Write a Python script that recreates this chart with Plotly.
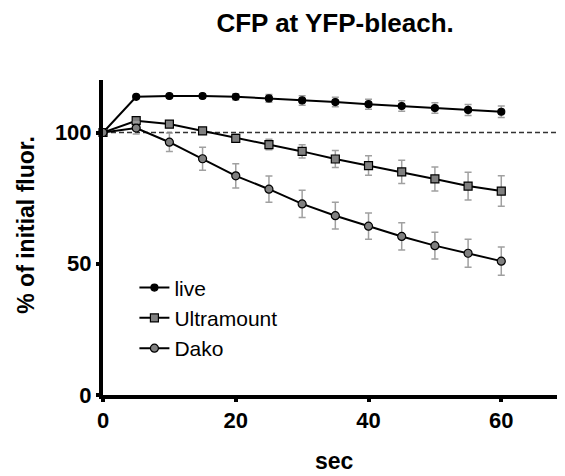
import plotly.graph_objects as go

# Données
temps = [0, 5, 10, 15, 20, 25, 30, 35, 40, 45, 50, 55, 60]

live = [100, 113.6, 113.9, 113.9, 113.6, 113.0, 112.2, 111.6, 110.8, 110.1, 109.3, 108.6, 107.9]
live_err = [0, 0.5, 0.6, 0.8, 1.2, 1.5, 1.8, 1.8, 1.9, 2.0, 2.0, 2.1, 2.2]

ultramount = [100, 104.5, 103.2, 100.6, 97.8, 95.4, 92.8, 89.9, 87.4, 85.0, 82.3, 79.6, 77.7]
ultramount_err = [0, 0.6, 0.8, 1.0, 1.5, 2.0, 2.5, 3.2, 3.7, 4.4, 4.6, 5.3, 5.8]

dako = [100, 101.7, 96.3, 90.0, 83.5, 78.4, 72.8, 68.3, 64.3, 60.4, 56.9, 54.0, 51.0]
dako_err = [0, 2.3, 3.5, 4.4, 4.6, 5.0, 5.2, 5.1, 5.0, 5.2, 5.1, 5.3, 5.4]

x_ticks = [0, 20, 40, 60]
y_ticks = [0, 50, 100]

FONT = "Liberation Sans, Arial"

fig = go.Figure()

series = [
    ("live", live, live_err, "circle", "#000000", 7),
    ("Ultramount", ultramount, ultramount_err, "square", "#808080", 8),
    ("Dako", dako, dako_err, "circle", "#808080", 8),
]

for name, y, err, symbol, color, size in series:
    fig.add_trace(
        go.Scatter(
            x=temps,
            y=y,
            mode="lines+markers",
            name=name,
            legendgroup=name,
            line=dict(color="#000000", width=2),
            marker=dict(symbol=symbol, size=size, color=color,
                        line=dict(color="#000000", width=1.2)),
            error_y=dict(type="data", array=err, visible=True,
                         color="#a0a0a0", thickness=1.5, width=3.5),
            cliponaxis=False,
        )
    )

# Ligne pointillée à 100 %
fig.add_hline(y=100, line_dash="5px,3px", line_color="#333333", line_width=1.4, layer="below")

# Titres des axes
fig.add_annotation(
    text="<b>% of initial fluor.</b>", textangle=-90,
    xref="paper", yref="paper", x=-0.167, y=0.54,
    xanchor="center", yanchor="middle", showarrow=False,
    font=dict(family=FONT, size=23, color="#000"),
)
fig.add_annotation(
    text="<b>sec</b>",
    xref="paper", yref="paper", x=0.5, y=-0.21,
    xanchor="center", yanchor="middle", showarrow=False,
    font=dict(family=FONT, size=23, color="#000"),
)

fig.update_layout(
    title=dict(text="<b>CFP at YFP-bleach.</b>", x=0.579, xanchor="center",
               y=0.968, yanchor="middle",
               font=dict(family=FONT, size=26, color="#000")),
    width=565,
    height=476,
    margin=dict(l=95, r=8, t=72, b=89),
    paper_bgcolor="white",
    plot_bgcolor="white",
    font=dict(family=FONT, color="#000"),
    showlegend=True,
    legend=dict(x=0.068, y=0.405, xanchor="left", yanchor="top",
                bgcolor="rgba(0,0,0,0)", font=dict(size=21),
                itemwidth=30, tracegroupgap=0),
    xaxis=dict(
        range=[0, 69.6],
        tickvals=x_ticks,
        ticktext=[f"<b>{v}</b>" for v in x_ticks],
        tickfont=dict(size=22),
        showline=True, linecolor="#000", linewidth=4,
        ticks="outside", ticklen=3, tickwidth=4, tickcolor="#000",
        showgrid=False, zeroline=False,
    ),
    yaxis=dict(
        range=[0, 120],
        tickvals=y_ticks,
        ticktext=[f"<b>{v}</b>" for v in y_ticks],
        tickfont=dict(size=22),
        showline=True, linecolor="#000", linewidth=4,
        ticks="outside", ticklen=3, tickwidth=4, tickcolor="#000",
        showgrid=False, zeroline=False,
    ),
)

fig.write_html("out.html")
